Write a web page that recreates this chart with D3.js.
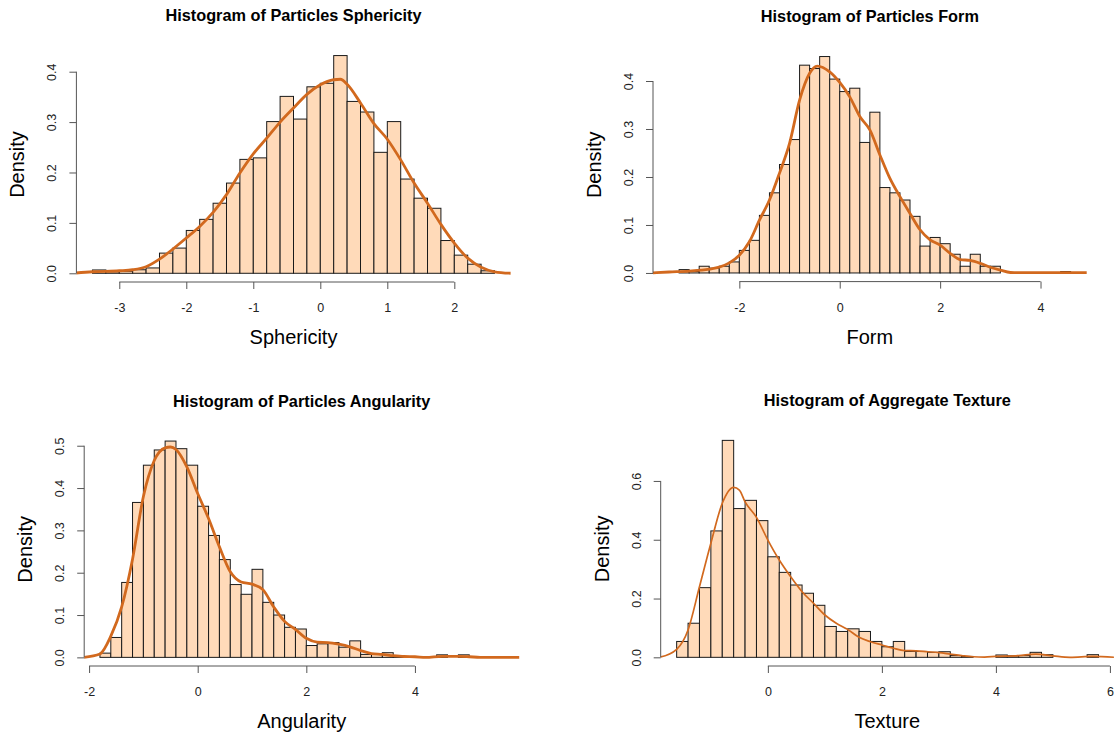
<!DOCTYPE html>
<html>
<head>
<meta charset="utf-8">
<script src="https://cdn.jsdelivr.net/npm/d3@7"></script>
<style>
  body { margin: 0; background: #fff; }
  svg { display: block; font-family: "Liberation Sans", Arial, Helvetica, sans-serif; }
</style>
</head>
<body>
<svg id="chart" width="1115" height="738"></svg>
<script>
// ---- Histogram data (density per 0.2-wide bin, first bin lower edge given) ----
const binWidth = 0.2;

const sphericityStart = -3.4;
const sphericityDensity = [0.0066, 0.003, 0.004, 0.007, 0.0106, 0.040, 0.050, 0.085, 0.107, 0.139,
  0.179, 0.226, 0.229, 0.301, 0.351, 0.306, 0.370, 0.377, 0.432, 0.341,
  0.320, 0.240, 0.301, 0.187, 0.149, 0.129, 0.065, 0.036, 0.018, 0.005];

const formStart = -3.2;
const formDensity = [0.007, 0.003, 0.014, 0.010, 0.014, 0.023, 0.047, 0.068, 0.120, 0.167,
  0.226, 0.278, 0.433, 0.426, 0.451, 0.404, 0.378, 0.385, 0.272, 0.335,
  0.178, 0.167, 0.152, 0.118, 0.056, 0.074, 0.061, 0.039, 0.014, 0.039,
  0.014, 0.014, 0, 0, 0, 0, 0, 0, 0.003];

const angularityStart = -1.8;
const angularityDensity = [0.010, 0.047, 0.177, 0.366, 0.454, 0.490, 0.511, 0.493, 0.454, 0.357,
  0.288, 0.231, 0.172, 0.149, 0.208, 0.130, 0.100, 0.071, 0.067, 0.028,
  0.032, 0.035, 0.024, 0.039, 0.007, 0.009, 0.011, 0.003, 0.002, 0,
  0, 0.006, 0, 0.006];

const textureStart = -1.6;
const textureDensity = [0.054, 0.116, 0.237, 0.430, 0.738, 0.506, 0.534, 0.465, 0.342, 0.289,
  0.246, 0.218, 0.177, 0.105, 0.088, 0.097, 0.088, 0.054, 0.036, 0.054,
  0.020, 0.020, 0.017, 0.019, 0.006, 0.003, 0, 0, 0.008, 0.005,
  0.006, 0.017, 0.009, 0, 0, 0, 0.009];

// ---- Kernel density estimates ----
const sphericityCurveX = [-3.7, -3.4, -3.0, -2.8, -2.6, -2.4, -2.2, -2.0, -1.8, -1.6, -1.4, -1.2, -1.0,
  -0.8, -0.6, -0.4, -0.2, 0, 0.2, 0.3, 0.4, 0.6, 0.8, 1.0, 1.2, 1.4, 1.6, 1.8, 2.0, 2.2, 2.4, 2.6, 2.85];
const sphericityCurveY = [0, 0.003, 0.005, 0.007, 0.013, 0.028, 0.048, 0.070, 0.093, 0.121, 0.156, 0.199, 0.237,
  0.268, 0.300, 0.328, 0.355, 0.374, 0.384, 0.385, 0.375, 0.338, 0.297, 0.266, 0.225, 0.179, 0.139, 0.097, 0.060, 0.030, 0.012, 0.003, 0];

const formCurveX = [-3.75, -3.4, -3.0, -2.6, -2.4, -2.2, -2.0, -1.8, -1.6, -1.4, -1.2, -1.0, -0.8, -0.6,
  -0.45, -0.2, 0, 0.2, 0.4, 0.6, 0.8, 1.0, 1.2, 1.4, 1.6, 1.8, 2.0, 2.2, 2.4, 2.6, 2.8, 3.0, 3.2, 3.4, 3.6, 4.95];
const formCurveY = [0, 0.002, 0.004, 0.008, 0.012, 0.021, 0.037, 0.065, 0.110, 0.152, 0.208, 0.270, 0.360, 0.416,
  0.431, 0.419, 0.397, 0.367, 0.326, 0.298, 0.246, 0.197, 0.159, 0.124, 0.090, 0.069, 0.058, 0.041, 0.028, 0.026, 0.020, 0.012, 0.006, 0.001, 0.0005, 0.0005];

const angularityCurveX = [-2.1, -1.8, -1.6, -1.4, -1.2, -1.0, -0.8, -0.6, -0.5, -0.4, -0.2, 0, 0.2, 0.4, 0.6,
  0.8, 1.0, 1.2, 1.4, 1.6, 1.8, 2.0, 2.2, 2.4, 2.6, 2.8, 3.0, 3.2, 3.4, 3.6, 3.8, 4.0, 4.2, 4.5, 4.8, 5.0, 5.2, 5.95];
const angularityCurveY = [0, 0.008, 0.050, 0.119, 0.232, 0.380, 0.465, 0.495, 0.497, 0.491, 0.450, 0.387, 0.328, 0.261, 0.202,
  0.178, 0.173, 0.160, 0.119, 0.085, 0.066, 0.045, 0.036, 0.035, 0.031, 0.025, 0.016, 0.009, 0.007, 0.004, 0.002, 0.0015, 0, 0.0025, 0.0025, 0.0015, 0, 0];

const textureCurveX = [-1.9, -1.6, -1.4, -1.2, -1.0, -0.8, -0.6, -0.5, -0.4, -0.2, 0, 0.2, 0.4, 0.6, 0.8, 1.0,
  1.2, 1.4, 1.6, 1.8, 2.0, 2.2, 2.4, 2.6, 2.8, 3.0, 3.2, 3.4, 3.6, 3.8, 4.0, 4.4, 4.7, 5.0, 5.3, 5.7, 6.1];
const textureCurveY = [0, 0.027, 0.093, 0.240, 0.388, 0.524, 0.578, 0.569, 0.529, 0.476, 0.399, 0.331, 0.274, 0.223, 0.184, 0.144,
  0.116, 0.095, 0.068, 0.053, 0.042, 0.031, 0.023, 0.022, 0.019, 0.016, 0.011, 0.006, 0.002, 0.001, 0.003, 0.006, 0.011, 0.005, 0, 0.003, 0];

// ---- Axis ticks and labels ----
const sphericityXTicks = [-3, -2, -1, 0, 1, 2];
const formXTicks = [-2, 0, 2, 4];
const angularityXTicks = [-2, 0, 2, 4];
const textureXTicks = [0, 2, 4, 6];
const sphericityYTicks = [0, 0.1, 0.2, 0.3, 0.4];
const formYTicks = [0, 0.1, 0.2, 0.3, 0.4];
const angularityYTicks = [0, 0.1, 0.2, 0.3, 0.4, 0.5];
const textureYTicks = [0, 0.2, 0.4, 0.6];

const titles = ["Histogram of Particles Sphericity", "Histogram of Particles Form",
  "Histogram of Particles Angularity", "Histogram of Aggregate Texture"];
const xLabels = ["Sphericity", "Form", "Angularity", "Texture"];
const yLabel = "Density";

// ---- Panel layout: plotting region in pixels and its data window ----
const panels = [
  { start: sphericityStart, dens: sphericityDensity, cx: sphericityCurveX, cy: sphericityCurveY,
    xt: sphericityXTicks, yt: sphericityYTicks,
    xDomain: [-3.64, 2.84], yDomain: [-0.0173, 0.449], box: { l: 76.4, r: 510.6, t: 47, b: 282 }, lw: 2.8 },
  { start: formStart, dens: formDensity, cx: formCurveX, cy: formCurveY,
    xt: formXTicks, yt: formYTicks,
    xDomain: [-3.72, 4.92], yDomain: [-0.018, 0.469], box: { l: 653, r: 1086.7, t: 47.9, b: 281.6 }, lw: 2.8 },
  { start: angularityStart, dens: angularityDensity, cx: angularityCurveX, cy: angularityCurveY,
    xt: angularityXTicks, yt: angularityYTicks,
    xDomain: [-2.09, 5.92], yDomain: [-0.0204, 0.531], box: { l: 84.2, r: 519.2, t: 432.6, b: 666 }, lw: 2.8 },
  { start: textureStart, dens: textureDensity, cx: textureCurveX, cy: textureCurveY,
    xt: textureXTicks, yt: textureYTicks,
    xDomain: [-1.88, 6.07], yDomain: [-0.0295, 0.7675], box: { l: 660.7, r: 1113.9, t: 431.7, b: 666 }, lw: 1.7 }
];

const svg = d3.select("#chart");
const barFill = "#FFDAB9";
const curveColor = "#D2691E";
const axisColor = "#555";
const textColor = "#222";

panels.forEach((p, i) => {
  const { l, r, t, b } = p.box;
  const x = d3.scaleLinear().domain(p.xDomain).range([l, r]);
  const y = d3.scaleLinear().domain(p.yDomain).range([b, t]);
  const g = svg.append("g");

  // clip region for the density line
  const clipId = "plot-clip-" + i;
  svg.append("defs").append("clipPath").attr("id", clipId)
    .append("rect").attr("x", l).attr("y", t).attr("width", r - l).attr("height", b - t);

  // histogram bars
  const bins = p.dens.map((d, k) => ({ x0: p.start + k * binWidth, x1: p.start + (k + 1) * binWidth, d }));
  g.append("g").selectAll("rect").data(bins.filter(bn => bn.d > 0)).join("rect")
    .attr("x", bn => x(bn.x0))
    .attr("y", bn => y(bn.d))
    .attr("width", bn => x(bn.x1) - x(bn.x0))
    .attr("height", bn => y(0) - y(bn.d))
    .attr("fill", barFill)
    .attr("stroke", "#1a1a1a")
    .attr("stroke-width", 1);

  // density curve
  const pts = p.cx.map((v, k) => [v, p.cy[k]]);
  const line = d3.line().x(d => x(d[0])).y(d => y(d[1])).curve(d3.curveMonotoneX);
  g.append("path").datum(pts)
    .attr("clip-path", `url(#${clipId})`)
    .attr("d", line)
    .attr("fill", "none")
    .attr("stroke", curveColor)
    .attr("stroke-width", p.lw)
    .attr("stroke-linejoin", "round");

  // x axis (line spans first to last tick)
  const xa = g.append("g").attr("transform", `translate(0,${b})`)
    .call(d3.axisBottom(x).tickValues(p.xt).tickSize(7).tickSizeOuter(0).tickPadding(0).tickFormat(v => String(v)));
  xa.select(".domain").remove();
  xa.append("line").attr("x1", x(p.xt[0])).attr("x2", x(p.xt[p.xt.length - 1]))
    .attr("stroke", axisColor).attr("stroke-width", 1);
  xa.selectAll(".tick line").attr("stroke", axisColor);
  xa.selectAll(".tick text").attr("fill", textColor).attr("font-size", 12.5)
    .attr("y", 30).attr("dy", null).attr("font-family", "Liberation Sans, Arial, sans-serif");

  // y axis
  const ya = g.append("g").attr("transform", `translate(${l},0)`)
    .call(d3.axisLeft(y).tickValues(p.yt).tickSize(7).tickSizeOuter(0).tickFormat(d3.format(".1f")));
  ya.select(".domain").remove();
  ya.append("line").attr("y1", y(p.yt[0])).attr("y2", y(p.yt[p.yt.length - 1]))
    .attr("stroke", axisColor).attr("stroke-width", 1);
  ya.selectAll(".tick line").attr("stroke", axisColor);
  ya.selectAll(".tick text")
    .attr("fill", textColor).attr("font-size", 12.5)
    .attr("font-family", "Liberation Sans, Arial, sans-serif")
    .attr("x", null).attr("dy", null)
    .attr("text-anchor", "middle")
    .attr("transform", "translate(-20,0) rotate(-90)");

  // title
  svg.append("text").attr("x", (l + r) / 2).attr("y", t - 26)
    .attr("text-anchor", "middle").attr("font-weight", "bold").attr("font-size", 16.3)
    .attr("fill", "#000").text(titles[i]);

  // axis titles
  svg.append("text").attr("x", (l + r) / 2).attr("y", b + 62)
    .attr("text-anchor", "middle").attr("font-size", 20).attr("fill", "#000").text(xLabels[i]);
  svg.append("text").attr("transform", `translate(${l - 52},${(t + b) / 2}) rotate(-90)`)
    .attr("text-anchor", "middle").attr("font-size", 20).attr("fill", "#000").text(yLabel);
});
</script>
</body>
</html>
